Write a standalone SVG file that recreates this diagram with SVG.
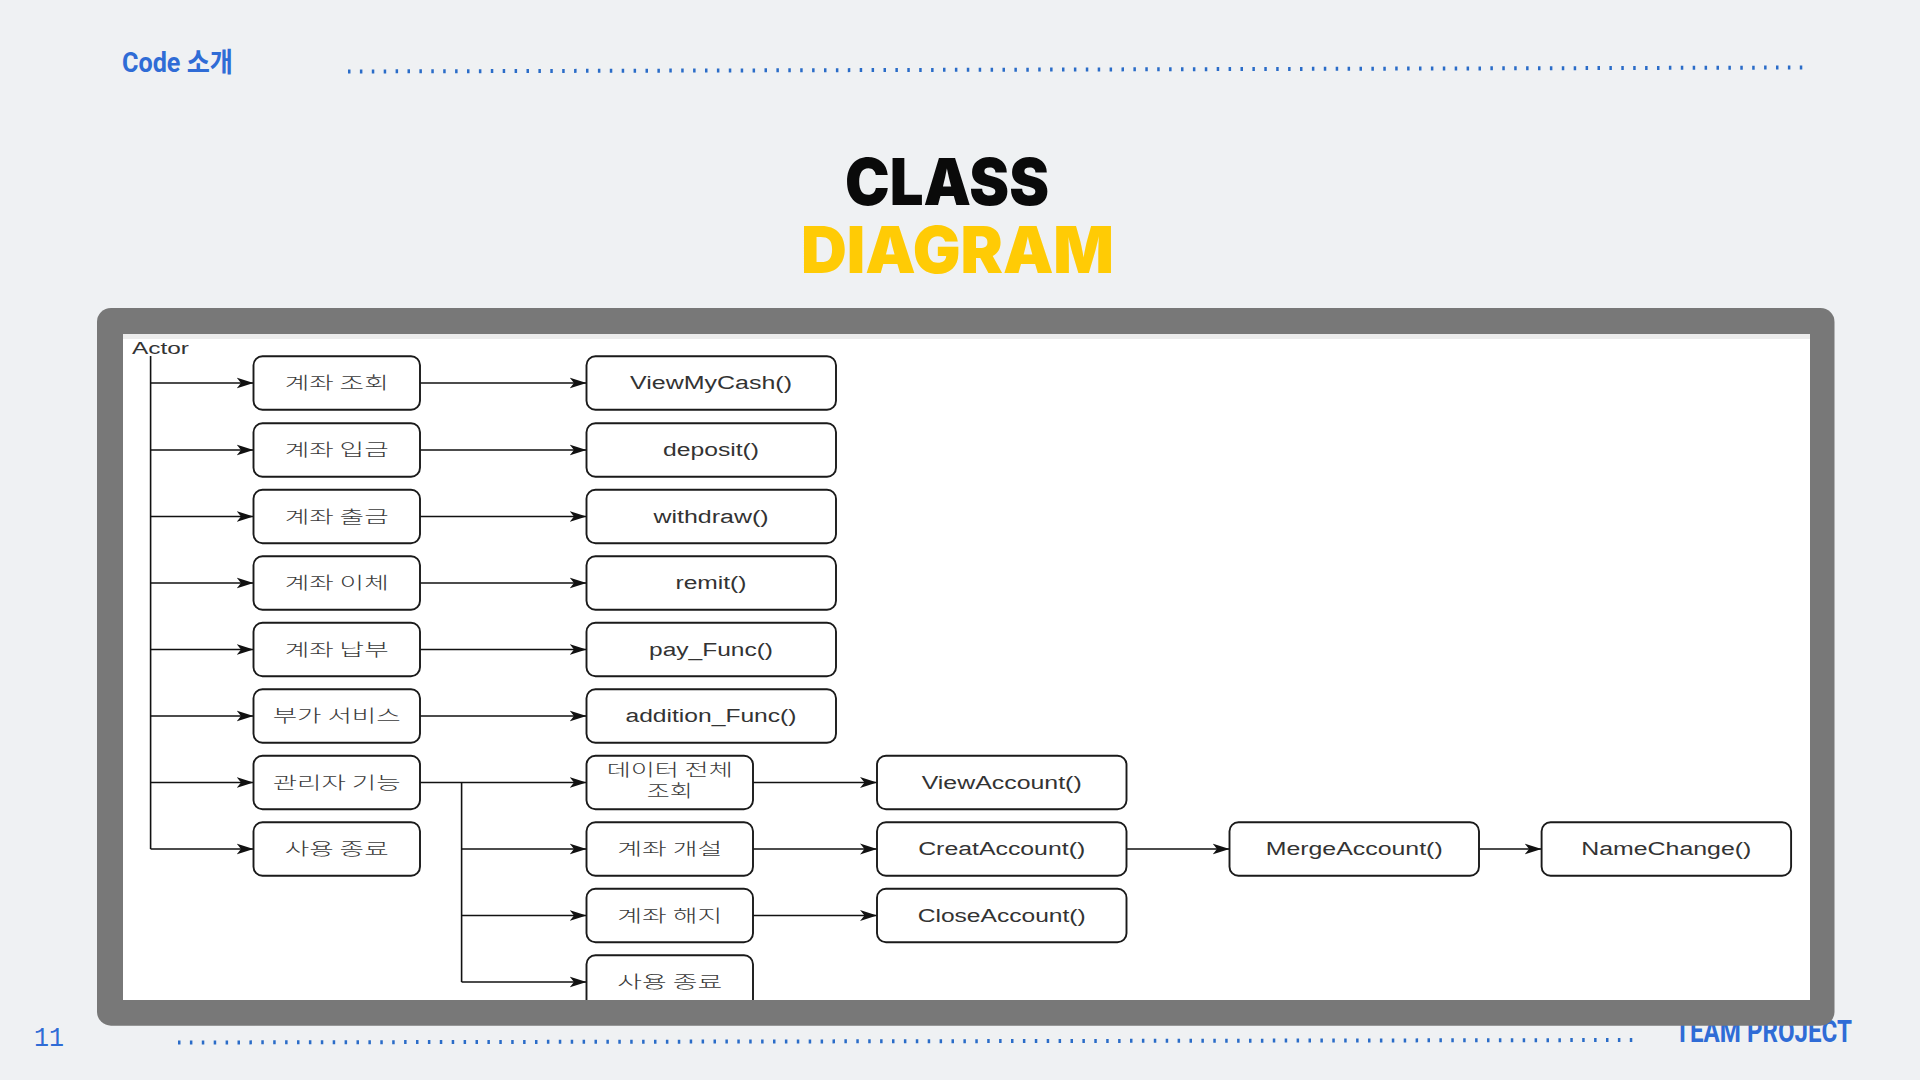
<svg xmlns="http://www.w3.org/2000/svg" width="1920" height="1080" viewBox="0 0 1920 1080">
<defs>
<style>
.bg{fill:#eff1f3}
.dots{fill:none;stroke:#2a6cc8;stroke-width:4;stroke-dasharray:2.5 9.4}
.hdr{font-family:Roboto,"Noto Sans CJK KR",sans-serif;font-weight:700;fill:#2f6cd6}
.ttl{font-family:Inter,Roboto,sans-serif;font-weight:900}
.box{fill:#ffffff;stroke:#1a1a1a;stroke-width:1.9}
.m{font-family:"Liberation Sans",Arial,sans-serif;font-size:18px;fill:#333333;text-anchor:middle}
.k{font-family:"Noto Sans CJK KR","Noto Sans",sans-serif;font-size:16.5px;font-weight:300;fill:#3a3a3a;text-anchor:middle}
.c{fill:none;stroke:#111111;stroke-width:1.6}
</style>
<marker id="arr" markerUnits="userSpaceOnUse" markerWidth="17" markerHeight="12" refX="17" refY="6" orient="auto">
<path d="M0,0.5 L17,6 L0,11.5 L4.5,6 Z" fill="#111111"/>
</marker>
<clipPath id="inner"><rect x="123" y="334" width="1687" height="666"/></clipPath>
</defs>

<rect class="bg" x="0" y="0" width="1920" height="1080"/>

<!-- header -->
<text class="hdr" x="122" y="72" font-size="27" textLength="111" lengthAdjust="spacingAndGlyphs">Code 소개</text>
<line class="dots" x1="348" y1="71.5" x2="1804" y2="67.5"/>

<!-- title -->
<text class="ttl" font-size="65"><tspan x="845" y="204.5" fill="#0a0a0a" textLength="204" lengthAdjust="spacingAndGlyphs">CLASS</tspan><tspan x="801" y="273.3" fill="#ffcb05" textLength="313" lengthAdjust="spacingAndGlyphs">DIAGRAM</tspan></text>

<!-- footer -->
<text x="34" y="1046" font-family="'Liberation Mono','DejaVu Sans Mono',monospace" font-size="28" fill="#2f6cd6" textLength="30" lengthAdjust="spacingAndGlyphs">11</text>
<line class="dots" x1="178" y1="1042.5" x2="1636" y2="1040"/>
<text class="hdr" x="1675" y="1042" font-size="31" fill="#1f6cc8" textLength="177" lengthAdjust="spacingAndGlyphs">TEAM PROJECT</text>

<!-- frame -->
<rect x="97" y="308" width="1737.5" height="717.7" rx="14" fill="#787878"/>
<rect x="123" y="334" width="1687" height="666" fill="#ffffff"/>
<rect x="123" y="334" width="1687" height="5" fill="#ececec"/>

<g clip-path="url(#inner)">
<text x="132" y="354" font-family="'Liberation Sans',Arial,sans-serif" font-size="17" fill="#333333" textLength="57" lengthAdjust="spacingAndGlyphs">Actor</text>

<g id="connectors">
<line class="c" x1="150.6" y1="356" x2="150.6" y2="849"/>
<line class="c" x1="150.6" y1="383" x2="253.5" y2="383" marker-end="url(#arr)"/>
<line class="c" x1="150.6" y1="450" x2="253.5" y2="450" marker-end="url(#arr)"/>
<line class="c" x1="150.6" y1="516.5" x2="253.5" y2="516.5" marker-end="url(#arr)"/>
<line class="c" x1="150.6" y1="583" x2="253.5" y2="583" marker-end="url(#arr)"/>
<line class="c" x1="150.6" y1="649.5" x2="253.5" y2="649.5" marker-end="url(#arr)"/>
<line class="c" x1="150.6" y1="716" x2="253.5" y2="716" marker-end="url(#arr)"/>
<line class="c" x1="150.6" y1="782.5" x2="253.5" y2="782.5" marker-end="url(#arr)"/>
<line class="c" x1="150.6" y1="849" x2="253.5" y2="849" marker-end="url(#arr)"/>

<line class="c" x1="420" y1="383" x2="586.5" y2="383" marker-end="url(#arr)"/>
<line class="c" x1="420" y1="450" x2="586.5" y2="450" marker-end="url(#arr)"/>
<line class="c" x1="420" y1="516.5" x2="586.5" y2="516.5" marker-end="url(#arr)"/>
<line class="c" x1="420" y1="583" x2="586.5" y2="583" marker-end="url(#arr)"/>
<line class="c" x1="420" y1="649.5" x2="586.5" y2="649.5" marker-end="url(#arr)"/>
<line class="c" x1="420" y1="716" x2="586.5" y2="716" marker-end="url(#arr)"/>
<line class="c" x1="420" y1="782.5" x2="586.5" y2="782.5" marker-end="url(#arr)"/>

<line class="c" x1="461.6" y1="782.5" x2="461.6" y2="982"/>
<line class="c" x1="461.6" y1="849" x2="586.5" y2="849" marker-end="url(#arr)"/>
<line class="c" x1="461.6" y1="915.5" x2="586.5" y2="915.5" marker-end="url(#arr)"/>
<line class="c" x1="461.6" y1="982" x2="586.5" y2="982" marker-end="url(#arr)"/>

<line class="c" x1="753" y1="782.5" x2="877" y2="782.5" marker-end="url(#arr)"/>
<line class="c" x1="753" y1="849" x2="877" y2="849" marker-end="url(#arr)"/>
<line class="c" x1="753" y1="915.5" x2="877" y2="915.5" marker-end="url(#arr)"/>
<line class="c" x1="1126.5" y1="849" x2="1229.5" y2="849" marker-end="url(#arr)"/>
<line class="c" x1="1479.5" y1="849" x2="1541.6" y2="849" marker-end="url(#arr)"/>
</g>

<!-- column 1 -->
<g id="n-view"><rect class="box" x="253.5" y="356.3" width="166.5" height="53.4" rx="9"/><text class="k" x="336.7" y="389" textLength="104" lengthAdjust="spacingAndGlyphs">계좌 조회</text></g>
<g id="n-deposit"><rect class="box" x="253.5" y="423.3" width="166.5" height="53.4" rx="9"/><text class="k" x="336.7" y="456" textLength="104" lengthAdjust="spacingAndGlyphs">계좌 입금</text></g>
<g id="n-withdraw"><rect class="box" x="253.5" y="489.8" width="166.5" height="53.4" rx="9"/><text class="k" x="336.7" y="522.5" textLength="104" lengthAdjust="spacingAndGlyphs">계좌 출금</text></g>
<g id="n-remit"><rect class="box" x="253.5" y="556.3" width="166.5" height="53.4" rx="9"/><text class="k" x="336.7" y="589" textLength="104" lengthAdjust="spacingAndGlyphs">계좌 이체</text></g>
<g id="n-pay"><rect class="box" x="253.5" y="622.8" width="166.5" height="53.4" rx="9"/><text class="k" x="336.7" y="655.5" textLength="104" lengthAdjust="spacingAndGlyphs">계좌 납부</text></g>
<g id="n-addition"><rect class="box" x="253.5" y="689.3" width="166.5" height="53.4" rx="9"/><text class="k" x="336.7" y="722" textLength="128" lengthAdjust="spacingAndGlyphs">부가 서비스</text></g>
<g id="n-admin"><rect class="box" x="253.5" y="755.8" width="166.5" height="53.4" rx="9"/><text class="k" x="336.7" y="788.5" textLength="128" lengthAdjust="spacingAndGlyphs">관리자 기능</text></g>
<g id="n-exit"><rect class="box" x="253.5" y="822.3" width="166.5" height="53.4" rx="9"/><text class="k" x="336.7" y="855" textLength="104" lengthAdjust="spacingAndGlyphs">사용 종료</text></g>

<!-- column 2 -->
<g id="n-viewmycash"><rect class="box" x="586.5" y="356.3" width="249.5" height="53.4" rx="9"/><text class="m" x="711" y="389.3" textLength="162" lengthAdjust="spacingAndGlyphs">ViewMyCash()</text></g>
<g id="n-depositf"><rect class="box" x="586.5" y="423.3" width="249.5" height="53.4" rx="9"/><text class="m" x="711" y="456.3" textLength="96" lengthAdjust="spacingAndGlyphs">deposit()</text></g>
<g id="n-withdrawf"><rect class="box" x="586.5" y="489.8" width="249.5" height="53.4" rx="9"/><text class="m" x="711" y="522.8" textLength="115" lengthAdjust="spacingAndGlyphs">withdraw()</text></g>
<g id="n-remitf"><rect class="box" x="586.5" y="556.3" width="249.5" height="53.4" rx="9"/><text class="m" x="711" y="589.3" textLength="71" lengthAdjust="spacingAndGlyphs">remit()</text></g>
<g id="n-payf"><rect class="box" x="586.5" y="622.8" width="249.5" height="53.4" rx="9"/><text class="m" x="711" y="655.8" textLength="124" lengthAdjust="spacingAndGlyphs">pay_Func()</text></g>
<g id="n-additionf"><rect class="box" x="586.5" y="689.3" width="249.5" height="53.4" rx="9"/><text class="m" x="711" y="722.3" textLength="171" lengthAdjust="spacingAndGlyphs">addition_Func()</text></g>

<g id="n-dataview"><rect class="box" x="586.5" y="755.8" width="166.5" height="53.4" rx="9"/><text class="k" font-size="14"><tspan x="669.7" y="776" textLength="126" lengthAdjust="spacingAndGlyphs">데이터 전체</tspan><tspan x="669.7" y="796.5" textLength="46" lengthAdjust="spacingAndGlyphs">조회</tspan></text></g>
<g id="n-open"><rect class="box" x="586.5" y="822.3" width="166.5" height="53.4" rx="9"/><text class="k" x="669.7" y="855" textLength="105" lengthAdjust="spacingAndGlyphs">계좌 개설</text></g>
<g id="n-close"><rect class="box" x="586.5" y="888.8" width="166.5" height="53.4" rx="9"/><text class="k" x="669.7" y="921.5" textLength="105" lengthAdjust="spacingAndGlyphs">계좌 해지</text></g>
<g id="n-exit2"><rect class="box" x="586.5" y="955.3" width="166.5" height="53.4" rx="9"/><text class="k" x="669.7" y="988" textLength="105" lengthAdjust="spacingAndGlyphs">사용 종료</text></g>

<!-- column 3+ -->
<g id="n-viewaccount"><rect class="box" x="877" y="755.8" width="249.5" height="53.4" rx="9"/><text class="m" x="1001.7" y="788.8" textLength="160" lengthAdjust="spacingAndGlyphs">ViewAccount()</text></g>
<g id="n-creataccount"><rect class="box" x="877" y="822.3" width="249.5" height="53.4" rx="9"/><text class="m" x="1001.7" y="855.3" textLength="167" lengthAdjust="spacingAndGlyphs">CreatAccount()</text></g>
<g id="n-closeaccount"><rect class="box" x="877" y="888.8" width="249.5" height="53.4" rx="9"/><text class="m" x="1001.7" y="921.8" textLength="168" lengthAdjust="spacingAndGlyphs">CloseAccount()</text></g>
<g id="n-mergeaccount"><rect class="box" x="1229.5" y="822.3" width="249.5" height="53.4" rx="9"/><text class="m" x="1354.2" y="855.3" textLength="177" lengthAdjust="spacingAndGlyphs">MergeAccount()</text></g>
<g id="n-namechange"><rect class="box" x="1541.6" y="822.3" width="249.5" height="53.4" rx="9"/><text class="m" x="1666.3" y="855.3" textLength="170" lengthAdjust="spacingAndGlyphs">NameChange()</text></g>
</g>
</svg>
